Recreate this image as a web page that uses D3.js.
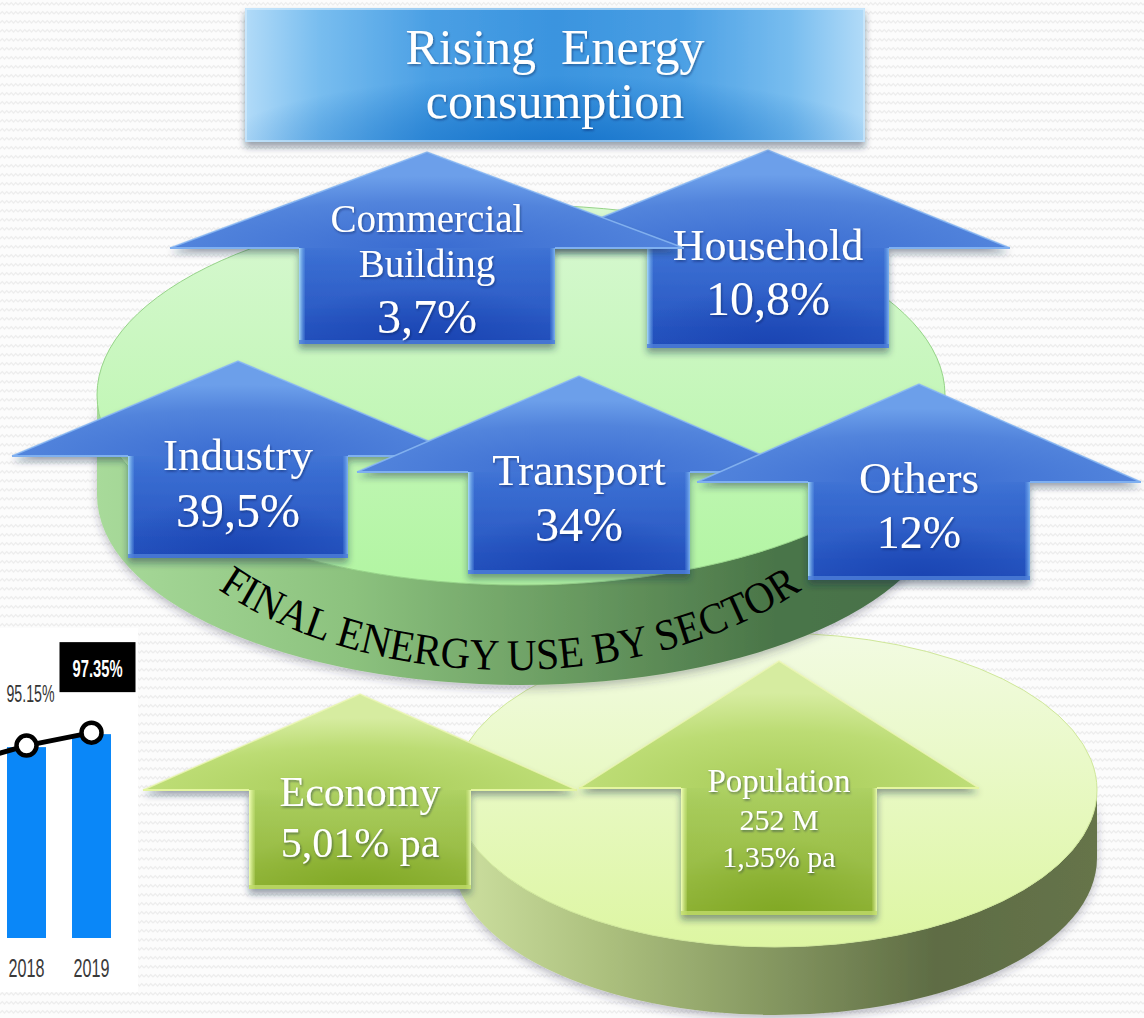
<!DOCTYPE html>
<html><head><meta charset="utf-8">
<script src="https://cdn.jsdelivr.net/npm/d3@7"></script>
<style>html,body{margin:0;padding:0;background:#fbfbfb;overflow:hidden}</style>
</head><body><svg id="c" width="1144" height="1018"></svg>
<script>
// ---------------- data ----------------
const titleLines = ["Rising  Energy", "consumption"];
const sectors = ["Commercial Building", "Household", "Industry", "Transport", "Others"];
const sectorLabels = [["Commercial", "Building"], ["Household"], ["Industry"], ["Transport"], ["Others"]];
const sectorShares = [3.7, 10.8, 39.5, 34, 12];
const diskLabel = "FINAL ENERGY USE BY SECTOR";
const drivers = ["Economy", "Population"];
const driverLines = [["Economy", "5,01% pa"], ["Population", "252 M", "1,35% pa"]];
const years = ["2017", "2018", "2019"];
const shownYears = ["2018", "2019"];
const ratioValues = [92.0, 95.15, 97.35];
const ratioLabels = ["", "95.15%", "97.35%"];

// ---------------- layout (not data) ----------------
const W = 1144, H = 1018;
const arrowGeom = {
  "Commercial Building": {cx: 427, tip: 152, base: 248, bot: 344, hw: 257, bw: 128,
     text: [[232, 39], [277, 39], [333, 48]]},
  "Household": {cx: 768, tip: 150, base: 248, bot: 348, hw: 242, bw: 121,
     text: [[260, 44], [315, 48]]},
  "Industry": {cx: 238, tip: 361, base: 456, bot: 558, hw: 226, bw: 110,
     text: [[470, 45], [527, 48]]},
  "Transport": {cx: 579, tip: 376, base: 472, bot: 574, hw: 222, bw: 111,
     text: [[485, 45], [541, 48]]},
  "Others": {cx: 919, tip: 384, base: 482, bot: 580, hw: 222, bw: 111,
     text: [[493, 45], [548, 46]]},
  "Economy": {cx: 360, tip: 694, base: 790, bot: 889, hw: 217, bw: 111,
     text: [[806, 42], [857, 42]]},
  "Population": {cx: 779, tip: 661, base: 788, bot: 915, hw: 200, bw: 98,
     text: [[792, 33], [830, 30], [867, 30]]}
};
const upperDisk = {cx: 521, cy: 395, rx: 424, ry: 190, depth: 100};
const lowerDisk = {cx: 775, cy: 790, rx: 322, ry: 157, depth: 68};
const serif = "'Liberation Serif', 'DejaVu Serif', serif";
const narrow = "'Liberation Sans Narrow', 'Liberation Sans', 'DejaVu Sans', sans-serif";

const svg = d3.select("#c");
const defs = svg.append("defs");

function lin(id, stops, x1 = 0, y1 = 0, x2 = 0, y2 = 1) {
  const g = defs.append("linearGradient").attr("id", id)
    .attr("x1", x1).attr("y1", y1).attr("x2", x2).attr("y2", y2);
  stops.forEach(s => g.append("stop").attr("offset", s[0]).attr("stop-color", s[1]).attr("stop-opacity", s[2] == null ? 1 : s[2]));
}
function rad(id, stops, cx = 0.5, cy = 0.5, r = 0.5) {
  const g = defs.append("radialGradient").attr("id", id).attr("cx", cx).attr("cy", cy).attr("r", r);
  stops.forEach(s => g.append("stop").attr("offset", s[0]).attr("stop-color", s[1]).attr("stop-opacity", s[2] == null ? 1 : s[2]));
}

// background zigzag texture
const pat = defs.append("pattern").attr("id", "zig").attr("width", 9).attr("height", 9).attr("patternUnits", "userSpaceOnUse");
pat.append("rect").attr("width", 9).attr("height", 9).attr("fill", "#fcfcfc");
pat.append("path").attr("d", "M0,5 L2.25,2.6 L4.5,5 L6.75,2.6 L9,5").attr("fill", "none").attr("stroke", "#ededed").attr("stroke-width", 1.2);
svg.append("rect").attr("width", W).attr("height", H).attr("fill", "url(#zig)");

// filters
const f1 = defs.append("filter").attr("id", "shadow").attr("x", "-10%").attr("y", "-10%").attr("width", "120%").attr("height", "130%");
f1.append("feDropShadow").attr("dx", 0).attr("dy", 5).attr("stdDeviation", 3.5).attr("flood-color", "#1c2c44").attr("flood-opacity", 0.45);
const f2 = defs.append("filter").attr("id", "tshadow").attr("x", "-10%").attr("y", "-20%").attr("width", "120%").attr("height", "150%");
f2.append("feDropShadow").attr("dx", 1).attr("dy", 1.5).attr("stdDeviation", 1).attr("flood-color", "#0a1a40").attr("flood-opacity", 0.45);
const f3 = defs.append("filter").attr("id", "dshadow").attr("x", "-10%").attr("y", "-10%").attr("width", "120%").attr("height", "130%");
f3.append("feDropShadow").attr("dx", 0).attr("dy", 4).attr("stdDeviation", 4).attr("flood-color", "#334").attr("flood-opacity", 0.3);

// gradients
lin("blue-fill", [[0, "#5f90e2"], [0.45, "#4678d6"], [0.55, "#3a6ed2"], [1, "#2350bd"]]);
rad("blue-head", [[0, "#3a6cd1"], [0.65, "#5284dc"], [1, "#6c9fea"]], 0.5, 1, 0.75);
rad("blue-glow", [[0, "#163fae", 0.75], [1, "#163fae", 0]], 0.5, 1, 0.6);
lin("blue-bevL", [[0, "#a8dcf8"], [1, "#6aa6ea", 0.2]], 0, 0, 1, 0);
lin("blue-bevR", [[0, "#5b92e2", 0.2], [1, "#7eb4f0"]], 0, 0, 1, 0);
lin("green-fill", [[0, "#c8e28a"], [0.45, "#b4d66c"], [0.55, "#a8cc5c"], [1, "#8fb236"]]);
rad("green-head", [[0, "#a8cc58"], [0.6, "#bcdc74"], [1, "#d6eca0"]], 0.5, 1, 0.75);
rad("green-glow", [[0, "#7aa41c", 0.7], [1, "#7aa41c", 0]], 0.5, 1, 0.6);
lin("green-bevL", [[0, "#f2ffb8"], [1, "#d8f090", 0.2]], 0, 0, 1, 0);
lin("green-bevR", [[0, "#c8e07a", 0.2], [1, "#e8fab0"]], 0, 0, 1, 0);
lin("udTop", [[0, "#d8f8d2"], [1, "#b2f5a2"]]);
lin("udSide", [[0, "#a8da9a"], [0.3, "#8cc27e"], [0.55, "#6a9c62"], [0.8, "#4a7548"], [1, "#47704a"]], 0, 0, 1, 0);
lin("ldTop", [[0, "#f2fbe2"], [1, "#ddf6a2"]]);
lin("ldSide", [[0, "#cde0a0"], [0.25, "#aabe7c"], [0.5, "#849660"], [0.75, "#5e6c44"], [1, "#66744a"]], 0, 0, 1, 0);
lin("titleH", [[0, "#b2dbf8"], [0.12, "#78bdef"], [0.3, "#4a9fe4"], [0.5, "#3a94df"], [0.7, "#4a9fe4"], [0.88, "#78bdef"], [1, "#b2dbf8"]], 0, 0, 1, 0);
rad("titleR", [[0, "#0e6cc6", 0.85], [1, "#0e6cc6", 0]], 0.5, 1.05, 0.55);

// ---------------- bottom-left ratio chart ----------------
const panel = svg.append("g");
panel.append("rect").attr("x", 0).attr("y", 628).attr("width", 138).attr("height", 364).attr("fill", "#ffffff");
defs.append("clipPath").attr("id", "pclip").append("rect").attr("x", 0).attr("y", 628).attr("width", 138).attr("height", 364);
const pc = panel.append("g").attr("clip-path", "url(#pclip)");
const x = d3.scaleBand().domain(years).range([-58, 111]).paddingInner(0.4).paddingOuter(0);
const y = d3.scaleLinear().domain([62.8, 100]).range([938, 718.5]);
pc.selectAll("rect.bar").data(years).join("rect").attr("class", "bar")
  .attr("x", d => x(d)).attr("width", x.bandwidth())
  .attr("y", (d, i) => y(ratioValues[i])).attr("height", (d, i) => y.range()[0] - y(ratioValues[i]))
  .attr("fill", "#0a87f8");
const pts = years.map((d, i) => [x(d) + x.bandwidth() / 2, y(ratioValues[i]) - 1.5]);
pc.append("path").attr("d", d3.line()(pts)).attr("fill", "none").attr("stroke", "#000").attr("stroke-width", 5);
pc.selectAll("circle.pt").data(pts).join("circle").attr("class", "pt")
  .attr("cx", d => d[0]).attr("cy", d => d[1]).attr("r", 10)
  .attr("fill", "#fff").attr("stroke", "#000").attr("stroke-width", 4.5);
// value labels
pc.append("text").attr("x", x("2018") + x.bandwidth() / 2 + 4).attr("y", y(ratioValues[1]) - 45)
  .attr("text-anchor", "middle").attr("font-family", narrow).attr("font-size", 24).attr("fill", "#353535")
  .attr("textLength", 48).attr("lengthAdjust", "spacingAndGlyphs").text(ratioLabels[1]);
const bx = x("2019") + x.bandwidth() / 2 + 6, by = y(ratioValues[2]) - 42;
pc.append("rect").attr("x", bx - 38).attr("y", by - 50).attr("width", 76).attr("height", 50).attr("fill", "#000");
pc.append("text").attr("x", bx).attr("y", by - 15).attr("text-anchor", "middle")
  .attr("font-family", narrow).attr("font-weight", "bold").attr("font-size", 24).attr("fill", "#fff")
  .attr("textLength", 50).attr("lengthAdjust", "spacingAndGlyphs").text(ratioLabels[2]);
const ax = pc.append("g").attr("transform", "translate(0,953)")
  .call(d3.axisBottom(x).tickValues(shownYears).tickSize(0).tickPadding(6));
ax.select(".domain").remove();
ax.selectAll("text").attr("font-family", narrow).attr("font-size", 26).attr("fill", "#3a3a3a")
  .attr("textLength", 36).attr("lengthAdjust", "spacingAndGlyphs");

// ---------------- disks ----------------
function disk(p, top, side, edge) {
  const {cx, cy, rx, ry, depth} = p;
  const g = svg.append("g");
  g.append("path").attr("d",
    `M${cx - rx},${cy} A${rx},${ry} 0 0 0 ${cx + rx},${cy} L${cx + rx},${cy + depth} A${rx},${ry} 0 0 1 ${cx - rx},${cy + depth} Z`)
    .attr("fill", `url(#${side})`).attr("filter", "url(#dshadow)");
  g.append("ellipse").attr("cx", cx).attr("cy", cy).attr("rx", rx).attr("ry", ry)
    .attr("fill", `url(#${top})`).attr("stroke", edge).attr("stroke-width", 1);
  return g;
}
disk(lowerDisk, "ldTop", "ldSide", "#cfe79a");
const ud = disk(upperDisk, "udTop", "udSide", "#96d488");
defs.append("path").attr("id", "bandPath")
  .attr("d", `M${510 - 398},418 A398,252 0 0 0 ${510 + 398},418`);
ud.append("text").attr("font-family", serif).attr("font-size", 44).attr("fill", "#000")
  .append("textPath").attr("href", "#bandPath").attr("startOffset", "50%").attr("text-anchor", "middle")
  .attr("textLength", 615).attr("lengthAdjust", "spacingAndGlyphs")
  .text(diskLabel);

// ---------------- arrows ----------------
const fmt = v => String(v).replace(".", ",") + "%";
function arrow(name, pal, lines) {
  const a = arrowGeom[name];
  const {cx, tip, base, bot, hw, bw} = a;
  const g = svg.append("g");
  const d = `M${cx},${tip} L${cx + hw},${base} L${cx + bw},${base} L${cx + bw},${bot} L${cx - bw},${bot} L${cx - bw},${base} L${cx - hw},${base} Z`;
  g.append("path").attr("d", d).attr("fill", `url(#${pal}-fill)`).attr("filter", "url(#shadow)");
  g.append("path").attr("d", `M${cx},${tip} L${cx + hw},${base} L${cx - hw},${base} Z`).attr("fill", `url(#${pal}-head)`);
  g.append("rect").attr("x", cx - bw).attr("y", base).attr("width", 2 * bw).attr("height", bot - base).attr("fill", `url(#${pal}-glow)`);
  g.append("rect").attr("x", cx - bw).attr("y", base).attr("width", 6).attr("height", bot - base).attr("fill", `url(#${pal}-bevL)`);
  g.append("rect").attr("x", cx + bw - 5).attr("y", base).attr("width", 5).attr("height", bot - base).attr("fill", `url(#${pal}-bevR)`);
  g.append("rect").attr("x", cx - bw).attr("y", bot - 4).attr("width", 2 * bw).attr("height", 4)
    .attr("fill", pal === "blue" ? "#4f80d8" : "#c0dc6c").attr("opacity", 0.8);
  g.append("path").attr("d", `M${cx - hw},${base} L${cx},${tip} L${cx + hw},${base}`)
    .attr("fill", "none").attr("stroke", pal === "blue" ? "#8dbcf4" : "#eef8b8").attr("stroke-width", 1.5).attr("opacity", 0.8);
  g.append("path").attr("d", `M${cx - hw},${base} L${cx - bw},${base} M${cx + bw},${base} L${cx + hw},${base}`)
    .attr("fill", "none").attr("stroke", pal === "blue" ? "#7fb0f0" : "#e4f5a0").attr("stroke-width", 2);
  const t = g.append("g").attr("filter", "url(#tshadow)");
  lines.forEach((ln, i) => {
    t.append("text").attr("x", cx).attr("y", a.text[i][0]).attr("text-anchor", "middle")
      .attr("font-family", serif).attr("font-size", a.text[i][1]).attr("fill", "#fff").text(ln);
  });
}
const order = [1, 0, 2, 3, 4];
order.forEach(i => arrow(sectors[i], "blue", sectorLabels[i].concat([fmt(sectorShares[i])])));
drivers.forEach((dname, i) => arrow(dname, "green", driverLines[i]));

// ---------------- title ----------------
const tg = svg.append("g");
tg.append("rect").attr("x", 245).attr("y", 8).attr("width", 620).attr("height", 134)
  .attr("fill", "url(#titleH)").attr("filter", "url(#shadow)");
tg.append("rect").attr("x", 245).attr("y", 8).attr("width", 620).attr("height", 134).attr("fill", "url(#titleR)");
tg.append("rect").attr("x", 246).attr("y", 9).attr("width", 618).attr("height", 132)
  .attr("fill", "none").attr("stroke", "#d4ecfc").attr("stroke-width", 1.5).attr("opacity", 0.8);
const tt = tg.append("g").attr("filter", "url(#tshadow)");
titleLines.forEach((ln, i) => {
  tt.append("text").attr("x", 555).attr("y", 64 + i * 54).attr("text-anchor", "middle")
    .attr("font-family", serif).attr("font-size", 50).attr("fill", "#fff")
    .style("white-space", "pre").text(ln);
});
</script>
</body></html>
